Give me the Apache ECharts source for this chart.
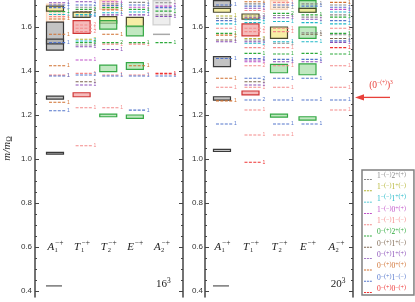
<!DOCTYPE html>
<html><head><meta charset="utf-8">
<script src="https://cdn.jsdelivr.net/npm/echarts@6/dist/echarts.min.js"></script>
<style>html,body{margin:0;padding:0;background:#fff}#c{width:415px;height:302px}</style>
</head><body><div id="c"></div>
<script>
// ---------------- data ----------------
const categories = ['A1', 'T1', 'T2', 'E', 'A2'];
const catMain = ['A', 'T', 'T', 'E', 'A'];
const catSub = ['1', '1', '2', '', '2'];
const catSup = ['−+', '−+', '−+', '−+', '−+'];
const volumes = ['16', '20'];
const majorTicks = [0.4, 0.6, 0.8, 1.0, 1.2, 1.4, 1.6];
const minorTicks = [0.4, 0.45, 0.5, 0.55, 0.6, 0.65, 0.7, 0.75, 0.8, 0.85, 0.9, 0.95, 1.0, 1.05, 1.1, 1.15, 1.2, 1.25, 1.3, 1.35, 1.4, 1.45, 1.5, 1.55, 1.6, 1.65, 1.7];
const legendNames = ['1-(-)2+(+)', '1-(-)1+(-)', '1-(-)1+(+)', '1-(-)0+(+)', '1-(-)1-(-)', '0-(+)2+(+)', '0-(+)1+(-)', '0-(+)1+(+)', '0-(+)0+(+)', '0-(+)1-(-)', '0-(+)0-(+)'];
const legendParts = [
  [['1', '−(−)'], ['2', '+(+)']], [['1', '−(−)'], ['1', '+(−)']], [['1', '−(−)'], ['1', '+(+)']],
  [['1', '−(−)'], ['0', '+(+)']], [['1', '−(−)'], ['1', '−(−)']], [['0', '−(+)'], ['2', '+(+)']],
  [['0', '−(+)'], ['1', '+(−)']], [['0', '−(+)'], ['1', '+(+)']], [['0', '−(+)'], ['0', '+(+)']],
  [['0', '−(+)'], ['1', '−(−)']], [['0', '−(+)'], ['0', '−(+)']]
];
// lattice results: [category, low, high, kind]
const boxes16 = [
  [0, 1.623, 1.704, 'peach'], [0, 1.495, 1.622, 'gray'], [0, 1.523, 1.545, 'gray'], [0, 1.672, 1.695, 'yellow'],
  [0, 1.272, 1.286, 'gray'], [0, 1.022, 1.030, 'gray'], [0, 0.423, 0.423, 'pion'],
  [1, 1.644, 1.668, 'yellow'], [1, 1.571, 1.629, 'red'], [1, 1.283, 1.301, 'red'],
  [2, 1.680, 1.720, 'peach'], [2, 1.617, 1.647, 'yellow'], [2, 1.590, 1.629, 'green'], [2, 1.397, 1.427, 'green'], [2, 1.192, 1.204, 'green'],
  [3, 1.601, 1.644, 'yellow'], [3, 1.560, 1.604, 'green'], [3, 1.407, 1.438, 'green'], [3, 1.185, 1.200, 'green'],
  [4, 1.610, 1.720, 'faint'], [4, 1.565, 1.570, 'lightbar']
];
const boxes20 = [
  [0, 1.692, 1.720, 'gray'], [0, 1.667, 1.685, 'yellow'], [0, 1.420, 1.465, 'gray'], [0, 1.268, 1.283, 'gray'],
  [0, 1.034, 1.044, 'gray'], [0, 0.423, 0.423, 'pion'],
  [1, 1.636, 1.659, 'yellow'], [1, 1.560, 1.614, 'red'], [1, 1.291, 1.309, 'red'],
  [2, 1.680, 1.720, 'peach'], [2, 1.548, 1.600, 'yellow'], [2, 1.392, 1.430, 'green'], [2, 1.190, 1.204, 'green'],
  [3, 1.667, 1.720, 'green'], [3, 1.667, 1.685, 'yellow'], [3, 1.548, 1.600, 'green'], [3, 1.383, 1.432, 'green'], [3, 1.177, 1.192, 'green']
];
// non-interacting levels: [category, value, channel, degeneracy]
const levels16 = [
  [0, 1.710, 7, 1], [0, 1.700, 9, 1], [0, 1.688, 9, 1], [0, 1.670, 5, 1], [0, 1.657, 2, 1], [0, 1.647, 4, 1], [0, 1.636, 8, 1],
  [0, 1.567, 8, 1], [0, 1.529, 9, 1], [0, 1.424, 8, 1], [0, 1.381, 4, 1], [0, 1.377, 9, 1], [0, 1.258, 8, 1], [0, 1.219, 9, 1],
  [1, 1.715, 7, 1], [1, 1.700, 9, 2], [1, 1.690, 0, 1], [1, 1.680, 5, 2], [1, 1.670, 6, 1], [1, 1.657, 2, 2], [1, 1.650, 9, 1],
  [1, 1.609, 4, 2], [1, 1.594, 4, 1], [1, 1.579, 4, 2], [1, 1.544, 1, 2], [1, 1.536, 2, 2], [1, 1.529, 5, 2], [1, 1.518, 0, 2],
  [1, 1.510, 7, 1], [1, 1.450, 3, 1], [1, 1.389, 4, 1], [1, 1.382, 9, 2], [1, 1.351, 6, 1], [1, 1.336, 7, 1], [1, 1.233, 4, 1], [1, 1.060, 4, 1],
  [2, 1.715, 3, 1], [2, 1.705, 0, 1], [2, 1.697, 9, 1], [2, 1.688, 5, 1], [2, 1.678, 8, 1], [2, 1.665, 2, 1], [2, 1.655, 7, 1],
  [2, 1.567, 8, 1], [2, 1.529, 5, 2], [2, 1.522, 4, 1], [2, 1.498, 7, 1], [2, 1.382, 4, 1], [2, 1.377, 9, 1], [2, 1.233, 4, 1],
  [3, 1.712, 0, 1], [3, 1.700, 9, 1], [3, 1.690, 3, 1], [3, 1.680, 5, 1], [3, 1.668, 2, 1], [3, 1.655, 7, 1],
  [3, 1.529, 5, 1], [3, 1.522, 4, 1], [3, 1.424, 8, 1], [3, 1.382, 4, 1], [3, 1.377, 9, 1], [3, 1.222, 9, 1],
  [4, 1.710, 0, 1], [4, 1.695, 3, 1], [4, 1.688, 9, 1], [4, 1.672, 5, 1], [4, 1.655, 0, 1], [4, 1.648, 7, 1],
  [4, 1.529, 5, 1], [4, 1.389, 10, 1], [4, 1.385, 4, 1], [4, 1.377, 9, 1]
];
const levels20 = [
  [0, 1.700, 9, 1], [0, 1.650, 1, 1], [0, 1.639, 0, 1], [0, 1.629, 9, 1], [0, 1.614, 2, 1], [0, 1.594, 4, 1], [0, 1.571, 5, 1],
  [0, 1.563, 8, 1], [0, 1.541, 6, 1], [0, 1.533, 7, 1], [0, 1.457, 9, 1], [0, 1.367, 8, 1], [0, 1.326, 4, 1], [0, 1.264, 8, 1], [0, 1.159, 9, 1],
  [1, 1.715, 8, 1], [1, 1.705, 0, 1], [1, 1.695, 9, 2], [1, 1.685, 7, 1], [1, 1.675, 4, 1], [1, 1.650, 0, 2], [1, 1.642, 7, 2],
  [1, 1.633, 2, 2], [1, 1.620, 2, 1], [1, 1.594, 4, 2], [1, 1.579, 4, 1], [1, 1.548, 1, 2], [1, 1.541, 0, 2], [1, 1.533, 7, 1],
  [1, 1.526, 2, 2], [1, 1.506, 4, 2], [1, 1.480, 5, 1], [1, 1.457, 9, 2], [1, 1.450, 7, 1], [1, 1.442, 3, 1], [1, 1.424, 4, 2],
  [1, 1.367, 9, 2], [1, 1.351, 6, 1], [1, 1.336, 7, 1], [1, 1.326, 4, 1], [1, 1.268, 9, 2], [1, 1.223, 4, 1], [1, 1.109, 4, 1], [1, 0.985, 10, 1],
  [2, 1.712, 4, 1], [2, 1.700, 9, 1], [2, 1.690, 0, 1], [2, 1.662, 5, 2], [2, 1.652, 0, 1], [2, 1.642, 7, 1], [2, 1.625, 2, 1],
  [2, 1.594, 4, 1], [2, 1.579, 4, 1], [2, 1.533, 2, 1], [2, 1.526, 0, 1], [2, 1.506, 4, 1], [2, 1.477, 5, 1], [2, 1.453, 9, 1],
  [2, 1.442, 7, 1], [2, 1.424, 4, 1], [2, 1.367, 9, 1], [2, 1.326, 4, 1], [2, 1.268, 9, 1], [2, 1.159, 9, 1], [2, 1.109, 4, 1],
  [3, 1.705, 0, 1], [3, 1.695, 9, 1], [3, 1.655, 5, 1], [3, 1.645, 0, 1], [3, 1.635, 7, 1], [3, 1.620, 2, 1], [3, 1.574, 0, 1],
  [3, 1.567, 6, 1], [3, 1.533, 2, 1], [3, 1.480, 5, 1], [3, 1.453, 9, 1], [3, 1.442, 7, 1], [3, 1.367, 9, 1], [3, 1.268, 9, 1], [3, 1.159, 9, 1],
  [4, 1.712, 8, 1], [4, 1.700, 0, 1], [4, 1.690, 9, 1], [4, 1.680, 3, 1], [4, 1.668, 2, 1], [4, 1.655, 0, 1], [4, 1.645, 5, 1],
  [4, 1.629, 9, 1], [4, 1.614, 2, 1], [4, 1.594, 4, 1], [4, 1.571, 5, 1], [4, 1.565, 0, 1], [4, 1.548, 6, 1], [4, 1.537, 9, 1],
  [4, 1.530, 7, 1], [4, 1.506, 10, 1], [4, 1.477, 5, 1], [4, 1.424, 4, 1], [4, 1.326, 4, 1], [4, 1.268, 9, 1], [4, 1.223, 4, 1]
];
const threshold3pi = 1.28;
const catLabelLevel = 0.6;
const volumeLabelLevel = 0.432;

// ---------------- styles ----------------
const levelColors = ['#8a8a8a', '#b5b535', '#22b8c8', '#c050c8', '#f48a8a', '#2eaa3c', '#7d6650', '#8a4fb8', '#d07030', '#5577cc', '#ee3333'];
const boxStyles = {
  gray: { fill: 'rgba(175,175,175,0.75)', stroke: '#3a3a3a' },
  yellow: { fill: 'rgba(245,235,150,0.85)', stroke: '#4a4a30' },
  red: { fill: 'rgba(240,150,150,0.65)', stroke: '#d03535' },
  green: { fill: 'rgba(160,220,160,0.65)', stroke: '#35a845' },
  peach: { fill: 'rgba(252,210,175,0.35)', stroke: 'rgba(245,180,130,0.5)' },
  faint: { fill: 'rgba(205,205,205,0.35)', stroke: 'rgba(170,170,170,0.5)' },
  lightbar: { fill: '#a8a8a8', stroke: null }
};
const yMin = 0.3727, yMax = 1.7227;
const axisColor = '#444';
const serif = 'Liberation Serif';
const sans = 'Liberation Sans';

function boxSeries(gi, rows) {
  return {
    type: 'custom', name: 'lattice' + gi, xAxisIndex: gi, yAxisIndex: gi * 4, z: 2, clip: false,
    data: rows.map(r => [r[0], r[1], r[2]]),
    renderItem(params, api) {
      const kind = rows[params.dataIndex][3];
      const top = api.coord([api.value(0), api.value(2)]);
      const bot = api.coord([api.value(0), api.value(1)]);
      if (kind === 'pion') {
        return { type: 'line', shape: { x1: top[0] - 9, y1: top[1], x2: top[0] + 7, y2: top[1] }, style: { stroke: '#333', lineWidth: 1 } };
      }
      const st = boxStyles[kind];
      return {
        type: 'rect',
        shape: { x: top[0] - 8.5, y: top[1], width: 17, height: Math.max(bot[1] - top[1], 1.5) },
        style: { fill: st.fill, stroke: st.stroke, lineWidth: st.stroke ? 1.2 : 0 }
      };
    }
  };
}
function levelSeries(gi, rows, ch) {
  const col = levelColors[ch];
  return {
    type: 'custom', name: legendNames[ch], xAxisIndex: gi, yAxisIndex: gi * 4, z: 3, clip: false,
    itemStyle: { color: col },
    data: rows.filter(r => r[2] === ch).map(r => [r[0], r[1], r[3]]),
    renderItem(params, api) {
      const p = api.coord([api.value(0), api.value(1)]);
      return {
        type: 'group', children: [
          { type: 'line', shape: { x1: p[0] - 6, y1: p[1], x2: p[0] + 11, y2: p[1] }, style: { stroke: col, lineWidth: 1.1, lineDash: [3, 1.4] } },
          { type: 'text', x: p[0] + 12, y: p[1], style: { text: String(api.value(2)), fill: col, font: '5px ' + sans, align: 'left', verticalAlign: 'middle' } }
        ]
      };
    }
  };
}
function labelSeries(gi) {
  return {
    type: 'custom', name: 'labels' + gi, xAxisIndex: gi, yAxisIndex: gi * 4, z: 4, clip: false, silent: true,
    data: categories.map((c, i) => [i, catLabelLevel]).concat([[4, volumeLabelLevel]]),
    renderItem(params, api) {
      const i = params.dataIndex;
      const p = api.coord([api.value(0), api.value(1)]);
      if (i === categories.length) {
        return {
          type: 'text', x: p[0] + 2, y: p[1],
          style: { text: '{b|' + volumes[gi] + '}{s|3}', align: 'center', verticalAlign: 'middle', fill: '#222',
            rich: { b: { fontFamily: serif, fontSize: 11, fill: '#222' }, s: { fontFamily: serif, fontSize: 7.5, padding: [0, 0, 6, 0], fill: '#222' } } }
        };
      }
      const x0 = p[0] - 7.5;
      return {
        type: 'group', children: [
          { type: 'text', x: x0, y: p[1], style: { text: catMain[i], font: 'italic 11px ' + serif, fill: '#222', align: 'left', verticalAlign: 'middle' } },
          { type: 'text', x: x0 + 7.5, y: p[1] - 4, style: { text: catSup[i], font: '7.5px ' + serif, fill: '#222', align: 'left', verticalAlign: 'middle' } },
          { type: 'text', x: x0 + 7, y: p[1] + 3.5, style: { text: catSub[i], font: '6.5px ' + serif, fill: '#222', align: 'left', verticalAlign: 'middle' } }
        ]
      };
    }
  };
}
function yAxes(gi) {
  const base = { gridIndex: gi, type: 'value', min: yMin, max: yMax, splitLine: { show: false } };
  const leftMain = Object.assign({}, base, {
    position: 'left',
    axisLine: { show: true, onZero: false, lineStyle: { color: axisColor, width: 1.5 } },
    axisTick: { show: true, inside: true, length: 4, customValues: majorTicks, lineStyle: { color: axisColor, width: 1 } },
    axisLabel: { show: true, customValues: majorTicks, formatter: v => v.toFixed(1), fontSize: 8, fontFamily: sans, color: '#333', margin: gi === 0 ? 3 : 2 }
  });
  if (gi === 0) {
    Object.assign(leftMain, {
      name: '{i|m}{i|/m}{s|Ω}', nameLocation: 'middle', nameGap: 21, nameRotate: 90,
      nameTextStyle: { color: '#222', rich: { i: { fontFamily: serif, fontStyle: 'italic', fontSize: 11, color: '#222' }, s: { fontFamily: serif, fontSize: 7.5, padding: [5, 0, 0, 0], color: '#222' } } }
    });
  }
  const leftMinor = Object.assign({}, base, {
    position: 'left', axisLine: { show: false, onZero: false },
    axisTick: { show: true, inside: true, length: 2, customValues: minorTicks, lineStyle: { color: axisColor, width: 1 } },
    axisLabel: { show: false }
  });
  const rightMain = Object.assign({}, base, {
    position: 'right', axisLine: { show: true, onZero: false, lineStyle: { color: axisColor, width: 1.5 } },
    axisTick: { show: true, inside: true, length: 4, customValues: majorTicks, lineStyle: { color: axisColor, width: 1 } },
    axisLabel: { show: false }
  });
  const rightMinor = Object.assign({}, base, {
    position: 'right', axisLine: { show: false, onZero: false },
    axisTick: { show: true, inside: true, length: 2, customValues: minorTicks, lineStyle: { color: axisColor, width: 1 } },
    axisLabel: { show: false }
  });
  return [leftMain, leftMinor, rightMain, rightMinor];
}

const series = [boxSeries(0, boxes16), boxSeries(1, boxes20)];
for (let ch = 0; ch < legendNames.length; ch++) {
  series.push(levelSeries(0, levels16, ch));
  series.push(levelSeries(1, levels20, ch));
}
series.push(labelSeries(0), labelSeries(1));
series.push({
  type: 'custom', name: 'threshold', xAxisIndex: 1, yAxisIndex: 4, z: 5, clip: false, silent: true,
  data: [[0, threshold3pi]],
  renderItem(params, api) {
    const cs = params.coordSys;
    const y = api.coord([0, api.value(1)])[1];
    const x0 = cs.x + cs.width;
    const red = '#e8403a';
    return {
      type: 'group', children: [
        { type: 'line', shape: { x1: x0 + 9, y1: y, x2: x0 + 37, y2: y }, style: { stroke: red, lineWidth: 1.3 } },
        { type: 'polygon', shape: { points: [[x0 + 2, y], [x0 + 11, y - 3.2], [x0 + 11, y + 3.2]] }, style: { fill: red } },
        { type: 'text', x: x0 + 28, y: y - 12, style: { text: '{p|(0}{s|−(+)}{p|)}{s|3}', align: 'center', verticalAlign: 'middle', fill: red,
          rich: { p: { fontFamily: serif, fontSize: 9.5, fill: red }, s: { fontFamily: serif, fontSize: 5.5, padding: [0, 0, 6, 0], fill: red } } } }
      ]
    };
  }
});

const rich = {};
levelColors.forEach((c, i) => {
  rich['b' + i] = { color: c, fontFamily: serif, fontSize: 7.5, lineHeight: 10 };
  rich['s' + i] = { color: c, fontFamily: serif, fontSize: 6, lineHeight: 10, padding: [0, 0, 3.5, 0] };
});
const dashIcon = 'path://M0,0h0.05v0.05h-0.05zM0,9h2.6v1.2h-2.6zM3.7,9h2.6v1.2h-2.6zM7.4,9h2.6v1.2h-2.6z';

const chart = echarts.init(document.getElementById('c'), null, { renderer: 'canvas' });
chart.setOption({
  animation: false,
  backgroundColor: '#fff',
  grid: [
    { left: 35, top: 0, width: 148, bottom: 5 },
    { left: 205, top: 0, width: 148, bottom: 5 }
  ],
  xAxis: [
    { gridIndex: 0, type: 'value', min: -0.751, max: 4.808, show: false },
    { gridIndex: 1, type: 'value', min: -0.596, max: 4.596, show: false }
  ],
  yAxis: yAxes(0).concat(yAxes(1)),
  legend: {
    orient: 'vertical', left: 362, top: 170, padding: [1, 8, 1, 2], itemGap: 1.3,
    itemWidth: 8, itemHeight: 8, borderColor: '#808080', borderWidth: 1.5, selectedMode: false,
    data: legendNames.map((n, i) => ({ name: n, icon: dashIcon, itemStyle: { color: levelColors[i] } })),
    formatter: name => {
      const i = legendNames.indexOf(name);
      return legendParts[i].map(p => '{b' + i + '|' + p[0] + '}{s' + i + '|' + p[1] + '}').join('');
    },
    textStyle: { fontSize: 7.5, lineHeight: 10, rich: rich }
  },
  series: series
});
</script></body></html>
